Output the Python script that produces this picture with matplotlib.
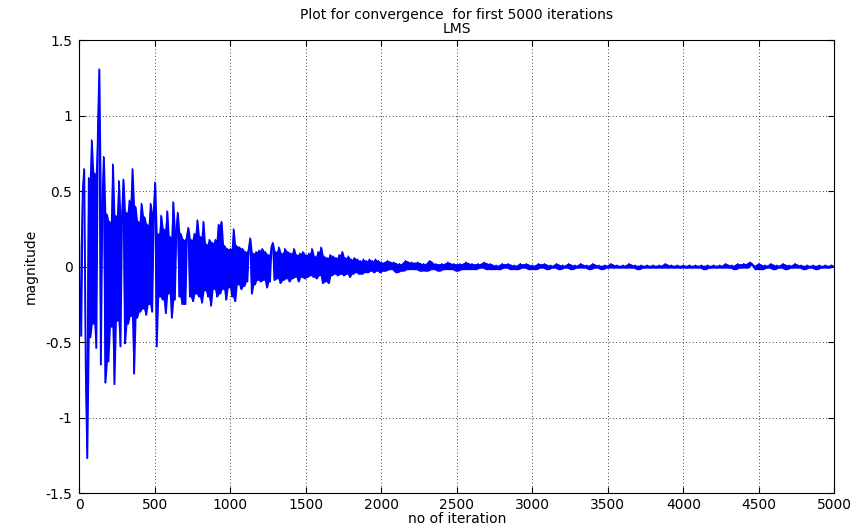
import numpy as np
import matplotlib.pyplot as plt

plt.rcParams['font.family'] = ['DejaVu Sans']
plt.rcParams['axes.unicode_minus'] = False
plt.rcParams['path.simplify'] = False

# LMS error samples
# first 2000 iterations sampled every 10
early = [
    0.14, -0.46, 0.50, 0.65, -0.67, -1.27, 0.59, -0.47, 0.84, -0.38,
    0.62, -0.54, 0.88, 1.31, -0.65, 0.42, 0.73, -0.77, 0.35, -0.63,
    0.30, -0.40, 0.68, -0.78, 0.34, -0.36, 0.57, -0.53, 0.32, 0.58,
    -0.51, 0.36, -0.38, 0.44, -0.33, 0.65, -0.71, 0.40, -0.34, 0.30,
    -0.30, 0.42, -0.28, 0.33, -0.32, 0.28, -0.25, 0.42, -0.30, 0.35,
    0.56, -0.53, 0.22, -0.20, 0.34, -0.22, 0.25, -0.31, 0.37, -0.18,
    0.20, -0.34, 0.43, -0.22, 0.24, 0.36, -0.20, 0.22, -0.25, 0.18,
    -0.25, 0.20, 0.26, -0.20, 0.18, -0.23, 0.22, -0.18, 0.31, -0.20,
    0.20, -0.24, 0.30, -0.16, 0.15, -0.20, 0.18, -0.26, 0.16, -0.15,
    0.18, -0.20, 0.28, -0.18, 0.30, -0.15, 0.14, -0.22, 0.12, -0.14,
    0.12, -0.20, 0.25, -0.23, 0.14, -0.12, 0.13, -0.15, 0.12, -0.13,
    0.10, -0.10, 0.12, 0.19, -0.18, 0.09, -0.12, 0.10, -0.09, 0.11,
    -0.10, 0.12, -0.09, 0.10, -0.14, 0.08, -0.10, 0.13, 0.16, -0.09,
    0.10, -0.08, 0.13, -0.11, 0.09, -0.09, 0.12, -0.08, 0.10, -0.10,
    0.09, -0.08, 0.12, -0.07, 0.08, -0.10, 0.09, -0.07, 0.10, -0.08,
    0.08, -0.07, 0.09, -0.06, 0.12, -0.07, 0.07, -0.08, 0.10, -0.06,
    0.13, -0.11, 0.07, -0.10, 0.06, -0.11, 0.08, -0.06, 0.07, -0.05,
    0.06, -0.06, 0.08, -0.05, 0.10, -0.06, 0.06, -0.05, 0.07, -0.07,
    0.05, -0.05, 0.06, -0.04, 0.05, -0.05, 0.04, -0.05, 0.05, -0.04,
    0.04, -0.04, 0.05, -0.03, 0.04, -0.04, 0.05, -0.03, 0.04, -0.04,
]
# iterations 2000..5000 sampled every 20
late = [
    0.03, -0.03, 0.04, -0.02, 0.03, -0.04, 0.02, -0.03, 0.04, -0.02,
    0.03, -0.02, 0.03, -0.03, 0.02, -0.03, 0.04, -0.02, 0.02, -0.03,
    0.02, -0.02, 0.03, -0.02, 0.02, -0.03, 0.02, -0.02, 0.03, -0.02,
    0.02, -0.02, 0.02, -0.01, 0.03, -0.02, 0.02, -0.02, 0.01, -0.02,
    0.02, -0.01, 0.02, -0.02, 0.01, -0.02, 0.02, -0.01, 0.02, -0.02,
    0.01, -0.02, 0.02, -0.01, 0.02, -0.02, 0.01, -0.01, 0.02, -0.02,
    0.01, -0.01, 0.02, -0.02, 0.01, -0.01, 0.02, -0.01, 0.01, -0.02,
    0.02, -0.01, 0.01, -0.02, 0.01, -0.01, 0.02, -0.01, 0.01, -0.01,
    0.01, -0.01, 0.02, -0.01, 0.01, -0.02, 0.01, -0.01, 0.01, -0.01,
    0.01, -0.01, 0.01, -0.01, 0.02, -0.01, 0.01, -0.01, 0.01, -0.01,
    0.01, -0.01, 0.01, -0.01, 0.01, -0.01, 0.01, -0.02, 0.01, -0.01,
    0.01, -0.01, 0.01, -0.01, 0.02, -0.01, 0.01, -0.02, 0.02, -0.01,
    0.02, -0.01, 0.03, 0.01, -0.02, 0.02, -0.02, 0.01, -0.01, 0.02,
    -0.02, 0.01, -0.01, 0.02, -0.02, 0.01, -0.01, 0.02, -0.01, 0.01,
    -0.02, 0.01, -0.01, 0.01, -0.02, 0.01, -0.01, 0.01, -0.01, 0.01,
    0.00,
]

it_early = np.arange(len(early)) * 10
it_late = 2000 + np.arange(len(late)) * 20
iters = np.concatenate([it_early, it_late])
err = np.concatenate([early, late])

# area swept by each segment of the (very dense) original trace
mid = (iters[:-1] + iters[1:]) / 2
seg_hi = np.maximum(err[:-1], err[1:])
seg_lo = np.minimum(err[:-1], err[1:])

xticks = [0, 500, 1000, 1500, 2000, 2500, 3000, 3500, 4000, 4500, 5000]
yticks = [-1.5, -1, -0.5, 0, 0.5, 1, 1.5]
ytick_labels = ['-1.5', '-1', '-0.5', '0', '0.5', '1', '1.5']

fig = plt.figure(figsize=(8.54, 5.29), dpi=100)
ax = fig.add_axes([0.093, 0.068, 0.884, 0.856])
ax.fill_between(mid, seg_lo, seg_hi, color='blue', linewidth=0)
ax.plot(iters, err, color='blue', linewidth=0.9)

ax.set_xlim(0, 5000)
ax.set_ylim(-1.5, 1.5)
ax.set_xticks(xticks)
ax.set_xticklabels([str(t) for t in xticks])
ax.set_yticks(yticks)
ax.set_yticklabels(ytick_labels)
ax.tick_params(direction='in', top=True, right=True, labelsize=10, length=4)
ax.tick_params(axis='x', pad=3.5)
ax.tick_params(axis='y', pad=5)
ax.grid(True, color='black', linestyle=(0, (1, 3)), linewidth=0.6)
for s in ax.spines.values():
    s.set_linewidth(0.8)

ax.set_title('Plot for convergence  for first 5000 iterations\nLMS', fontsize=10, pad=5, linespacing=1.0)
ax.set_xlabel('no of iteration', fontsize=10, labelpad=0)
ax.set_ylabel('magnitude', fontsize=10, labelpad=6)

fig.savefig('out.png', dpi=100)
